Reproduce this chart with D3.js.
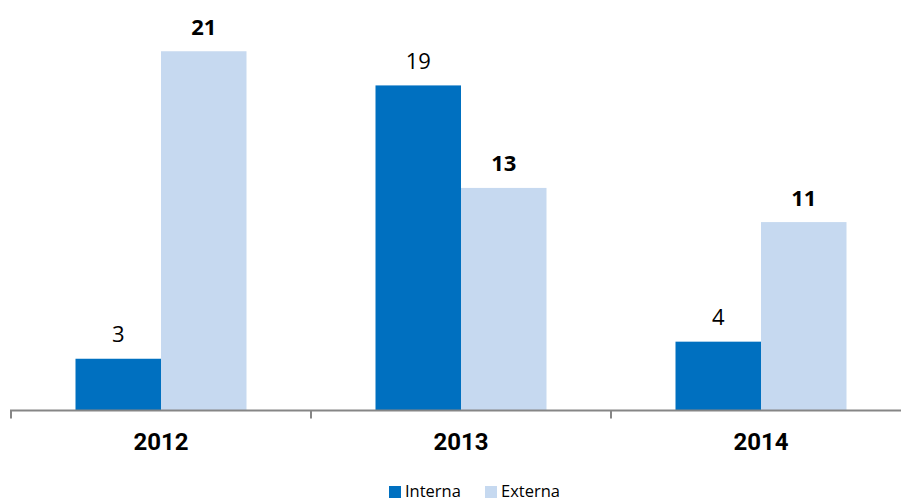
<!DOCTYPE html>
<html><head><meta charset="utf-8">
<script src="https://cdn.jsdelivr.net/npm/d3@7"></script>
<style>body{margin:0;background:#fff}svg{display:block}</style>
</head><body><svg id="c" width="901" height="502"></svg>
<script>
const categories = ["2012","2013","2014"];
const seriesNames = ["Interna","Externa"];
const interna = [3,19,4];
const externa = [21,13,11];
const colors = ["#0070C0","#C6D9F0"];
const boldLabel = [false,true];

const svg = d3.select("#c");
const x = d3.scaleBand().domain(categories).range([11,911]).paddingInner(0).paddingOuter(0);
const y = d3.scaleLinear().domain([0,24]).range([410,0]);
const xs = d3.scaleBand().domain(seriesNames).range([0,171]);
const groupOff = (x.bandwidth()-171)/2;
const series = [interna, externa];

series.forEach((vals,si)=>{
  const g = svg.append("g");
  g.selectAll("rect").data(vals).join("rect")
    .attr("x",(d,i)=>x(categories[i])+groupOff+xs(seriesNames[si]))
    .attr("y",d=>y(d)).attr("width",xs.bandwidth()).attr("height",d=>y(0)-y(d))
    .attr("fill",colors[si]);
  g.selectAll("text").data(vals).join("text")
    .attr("x",(d,i)=>x(categories[i])+groupOff+xs(seriesNames[si])+xs.bandwidth()/2)
    .attr("y",d=>y(d)-16.5).attr("text-anchor","middle")
    .attr("font-family","'Open Sans', sans-serif").attr("font-size",22)
    .attr("font-weight",boldLabel[si]?"bold":"normal").attr("fill","#000").text(d=>d);
});

const axis = d3.axisBottom(x).tickSize(8).tickFormat("");
const ag = svg.append("g").attr("transform","translate(0,410.5)").call(axis);
ag.select(".domain").attr("stroke","#868686").attr("stroke-width",2).attr("d","M10,0H901");
ag.selectAll(".tick line").attr("stroke","#868686").attr("stroke-width",2)
  .attr("transform",(d)=>`translate(${-x.bandwidth()/2},0)`);

svg.append("g").selectAll("text").data(categories).join("text")
  .attr("x",d=>x(d)+x.bandwidth()/2).attr("y",450).attr("text-anchor","middle")
  .attr("font-family","Roboto, sans-serif").attr("font-weight","bold").attr("font-size",24)
  .attr("fill","#000").text(d=>d);

const legX = [389,485];
const lg = svg.append("g");
seriesNames.forEach((n,i)=>{
  lg.append("rect").attr("x",legX[i]).attr("y",486).attr("width",12).attr("height",12).attr("fill",colors[i]);
  lg.append("text").attr("x",legX[i]+16).attr("y",497).attr("font-family","'Open Sans', sans-serif")
    .attr("font-size",16.5).attr("fill","#000").text(n);
});
</script></body></html>
